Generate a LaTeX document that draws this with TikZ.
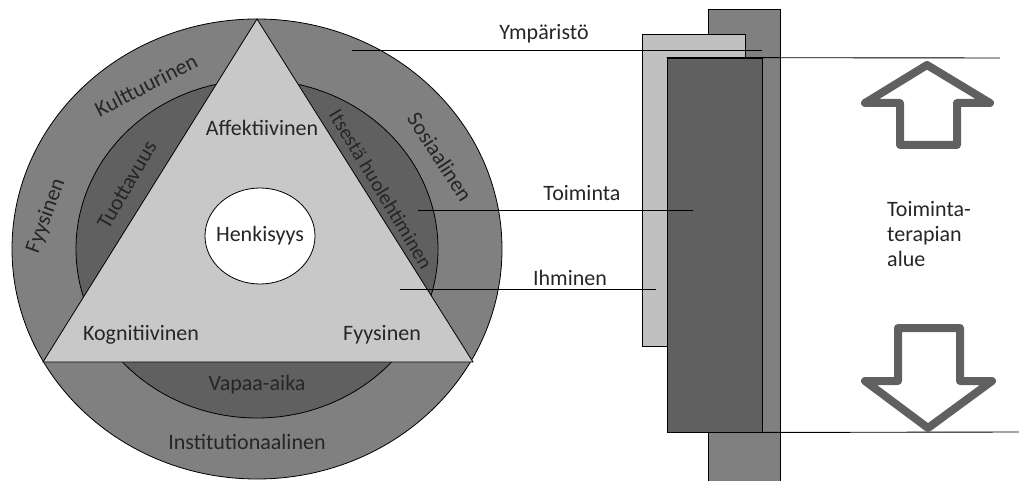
\documentclass[tikz,border=0pt]{standalone}
\usepackage{fontspec}
\setmainfont{Carlito}
\usetikzlibrary{shapes.geometric}
\definecolor{ringout}{HTML}{808080}
\definecolor{ringin}{HTML}{606060}
\definecolor{tri}{HTML}{C8C8C8}
\definecolor{lightbox}{HTML}{C0C0C0}
\definecolor{arrowgray}{HTML}{606060}
\begin{document}
\begin{tikzpicture}[x=1pt,y=-1pt,
  lab/.style={font=\fontsize{22}{26}\selectfont, inner sep=0pt, text=black!85},
  edge/.style={draw=black, line width=0.8pt},
  conn/.style={draw=black, line width=0.9pt},
  bigarrow/.style={draw=arrowgray, line width=8pt, line join=round, line cap=round, fill=white}]
\useasboundingbox (0,0) rectangle (1019,481);
% circle diagram
\coordinate (c) at (257,249);
\fill[ringout] (c) ellipse [x radius=245, y radius=230];
\draw[edge] (c) ellipse [x radius=245, y radius=230];
\fill[ringin] (c) ellipse [x radius=181, y radius=169];
\draw[edge] (c) ellipse [x radius=181, y radius=169];
\coordinate (ta) at (257,19);
\coordinate (tl) at (43,362);
\coordinate (tr) at (473,362);
\filldraw[fill=tri, edge] (ta) -- (tl) -- (tr) -- cycle;
\node[ellipse, draw=black, line width=0.8pt, fill=white, minimum width=110pt, minimum height=96pt] (henk) at (260,236) {};
\node[lab] at (henk) {Henkisyys};
\node[lab, rotate=27] (kult) at (146,85) {Kulttuurinen};
\node[lab, rotate=70] (fyy1) at (46,216) {Fyysinen};
\node[lab, rotate=60] (tuot) at (127,185) {Tuottavuus};
\node[lab] (aff) at (262,128) {Affektiivinen};
\node[lab, rotate=-59, font=\fontsize{20.5}{24}\selectfont] (itse) at (381,189) {Itsestä huolehtiminen};
\node[lab, rotate=-57] (sos) at (440,157) {Sosiaalinen};
\node[lab] (kog) at (141,335) {Kognitiivinen};
\node[lab] (fyy2) at (382,335) {Fyysinen};
\node[lab] (vap) at (257,385) {Vapaa-aika};
\node[lab] (inst) at (247,442) {Institutionaalinen};
% right boxes
\node[draw=black, line width=0.9pt, fill=ringout, minimum width=72pt, minimum height=472pt, inner sep=0pt] (ymb) at (744,245) {};
\node[draw=black, line width=0.9pt, fill=lightbox, minimum width=103pt, minimum height=312pt, inner sep=0pt] (ihb) at (693.5,190) {};
\node[draw=black, line width=0.9pt, fill=ringin, minimum width=95pt, minimum height=374pt, inner sep=0pt] (tob) at (714.5,245) {};
% connectors
\coordinate (y0) at (352,50);
\coordinate (y1) at (762,50);
\coordinate (t0) at (418,210);
\coordinate (t1) at (693,210);
\coordinate (i0) at (400,289);
\coordinate (i1) at (656,289);
\coordinate (top1) at (1000,58);
\coordinate (bot1) at (1019,432);
\draw[conn] (y0) -- (y1);
\draw[conn] (t0) -- (t1);
\draw[conn] (i0) -- (i1);
\draw[conn] (tob.north west) -- (top1);
\draw[conn] (tob.south east) -- (bot1);
\node[lab] (ymp) at (544,34) {Ympäristö};
\node[lab] (toi) at (582,193) {Toiminta};
\node[lab] (ihm) at (570,278) {Ihminen};
% arrows
\draw[bigarrow] (865,103) -- (927,65) -- (990,103) -- (957,103) -- (957,145) -- (900,145) -- (900,103) -- cycle;
\draw[bigarrow] (898,328) -- (960,328) -- (960,381) -- (992,381) -- (928,428) -- (865,381) -- (898,381) -- cycle;
\node[lab, align=left, anchor=north west, font=\fontsize{22}{25}\selectfont] (area) at (887,201) {Toiminta-\\terapian\\alue};
\end{tikzpicture}
\end{document}
